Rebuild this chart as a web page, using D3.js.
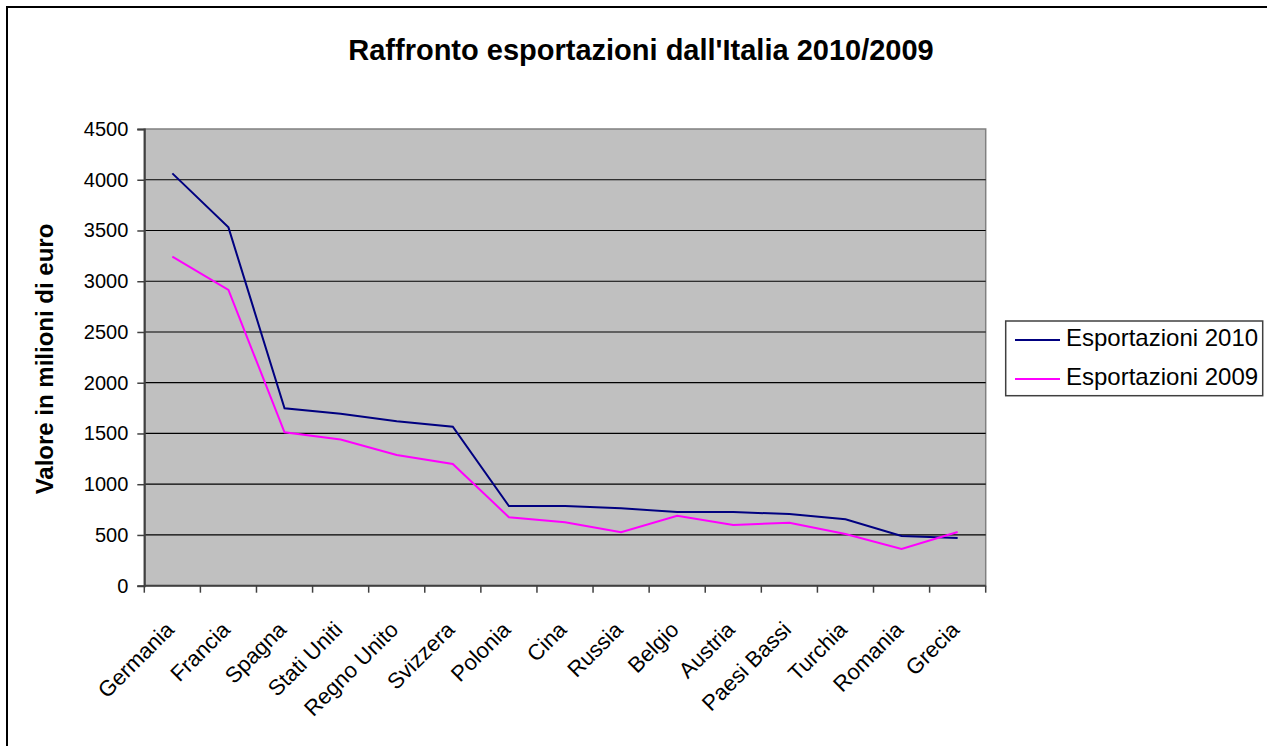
<!DOCTYPE html>
<html><head><meta charset="utf-8">
<script src="https://cdn.jsdelivr.net/npm/d3@7"></script>
<style>body{margin:0;background:#fff}svg{display:block;font-family:"Liberation Sans",Arial,sans-serif}</style>
</head><body>
<script>
const categories = ["Germania","Francia","Spagna","Stati Uniti","Regno Unito","Svizzera","Polonia","Cina","Russia","Belgio","Austria","Paesi Bassi","Turchia","Romania","Grecia"];
const exp2010 = [4063,3531,1748,1695,1620,1567,785,785,762,726,726,706,654,490,470];
const exp2009 = [3242,2914,1511,1440,1288,1199,675,625,526,690,598,621,509,362,529];
const yTicks = [0,500,1000,1500,2000,2500,3000,3500,4000,4500];
const seriesNames = ["Esportazioni 2010","Esportazioni 2009"];
const seriesColors = ["#000080","#FF00FF"];

const W = 1267, H = 746;
const svg = d3.select("body").append("svg").attr("width", W).attr("height", H);
svg.append("rect").attr("x",7).attr("y",7).attr("width",W+10).attr("height",H+10)
  .attr("fill","#fff").attr("stroke","#000").attr("stroke-width",2);

const L = 144.3, R = 985.7, T = 129, B = 585.7;
const x = d3.scaleBand().domain(categories).range([L,R]).paddingInner(0).paddingOuter(0);
const y = d3.scaleLinear().domain([0,4500]).range([B,T]);

svg.append("rect").attr("x",L).attr("y",T).attr("width",R-L).attr("height",B-T)
  .attr("fill","#C0C0C0").attr("stroke","#808080").attr("stroke-width",1.5);

// gridlines
svg.append("g").selectAll("line").data(yTicks.filter(d=>d>0&&d<4500)).join("line")
  .attr("x1",L).attr("x2",R).attr("y1",d=>y(d)).attr("y2",d=>y(d))
  .attr("stroke","#000").attr("stroke-width",1.2);

// y axis
const yAxis = d3.axisLeft(y).tickValues(yTicks).tickSize(7).tickPadding(9).tickFormat(d3.format("d"));
const gy = svg.append("g").attr("transform",`translate(${L},0)`).call(yAxis);
gy.select(".domain").attr("stroke","#404040").attr("stroke-width",2);
gy.selectAll(".tick line").attr("stroke","#404040").attr("stroke-width",1.5);
gy.selectAll("text").attr("font-size",20).attr("fill","#000").attr("font-family","Liberation Sans, Arial, sans-serif");

// x axis
const bounds = categories.map(c=>x(c)).concat([R]);
const gx = svg.append("g");
gx.append("line").attr("x1",L).attr("x2",R).attr("y1",B).attr("y2",B).attr("stroke","#404040").attr("stroke-width",2);
gx.selectAll("line.tk").data(bounds).join("line").attr("class","tk")
  .attr("x1",d=>d).attr("x2",d=>d).attr("y1",B).attr("y2",B+7).attr("stroke","#404040").attr("stroke-width",1.5);
gx.selectAll("text").data(categories).join("text")
  .attr("transform",d=>`translate(${x(d)+x.bandwidth()/2+3},${631}) rotate(-45)`)
  .attr("text-anchor","end").attr("font-size",22).text(d=>d);

// lines
const line = d3.line().x((d,i)=>x(categories[i])+x.bandwidth()/2).y(d=>y(d));
[exp2010, exp2009].forEach((s,k)=>{
  svg.append("path").datum(s).attr("d",line).attr("fill","none")
    .attr("stroke",seriesColors[k]).attr("stroke-width",2).attr("stroke-linejoin","miter");
});

// title
svg.append("text").attr("x",641).attr("y",60).attr("text-anchor","middle")
  .attr("font-size",29).attr("font-weight","bold").text("Raffronto esportazioni dall'Italia 2010/2009");

// y axis title
svg.append("text").attr("transform",`translate(53,359) rotate(-90)`).attr("text-anchor","middle")
  .attr("font-size",24).attr("font-weight","bold").text("Valore in milioni di euro");

// legend
const lg = svg.append("g");
lg.append("rect").attr("x",1005.7).attr("y",321).attr("width",257).attr("height",74.7)
  .attr("fill","#fff").attr("stroke","#404040").attr("stroke-width",1.5);
const ly = [340, 379];
const lb = [346, 384.5];
seriesNames.forEach((n,k)=>{
  lg.append("line").attr("x1",1015).attr("x2",1060).attr("y1",ly[k]).attr("y2",ly[k])
    .attr("stroke",seriesColors[k]).attr("stroke-width",2);
  lg.append("text").attr("x",1066).attr("y",lb[k]).attr("font-size",24).text(n);
});
</script>
</body></html>
